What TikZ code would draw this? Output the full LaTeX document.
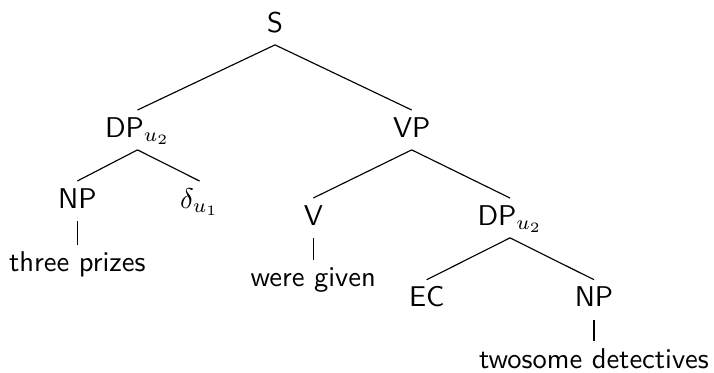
\documentclass[tikz,border=0pt]{standalone}
\begin{document}
\begin{tikzpicture}[x=0.35pt,y=-0.35pt,
  lbl/.style={anchor=base,inner sep=0pt,text height=9.25pt,text depth=4.3pt,font=\sffamily},
  branch/.style={draw=black,line width=0.4pt}]
\useasboundingbox (0,0) rectangle (714,372);
% labels of the tree
\node[lbl] (S)   at (275,32)    {S};
\node[lbl] (DPa) at (137.5,137) {DP$_{u_2}$};
\node[lbl] (VP)  at (411.7,137) {VP};
\node[lbl] (NPa) at (77.3,208)  {NP};
\node[lbl] (dl)  at (199.5,208) {$\delta_{u_1}$};
\node[lbl] (V)   at (313.3,225) {V};
\node[lbl] (DPb) at (510,225)   {DP$_{u_2}$};
\node[lbl] (tp)  at (77.3,271.5) {three prizes};
\node[lbl] (wg)  at (313.3,286.7) {were given};
\node[lbl] (EC)  at (426.7,306.7) {EC};
\node[lbl] (NPb) at (594,306.7) {NP};
\node[lbl] (td)  at (594,368.3) {twosome detectives};
% branches
\draw[branch] (S.south) -- (DPa.north);
\draw[branch] (S.south) -- (VP.north);
\draw[branch] (DPa.south) -- (NPa.north);
\draw[branch] (DPa.south) -- (dl.north);
\draw[branch] (NPa.south) -- (tp.north);
\draw[branch] (VP.south) -- (V.north);
\draw[branch] (VP.south) -- (DPb.north);
\draw[branch] (V.south) -- (wg.north);
\draw[branch] (DPb.south) -- (EC.north);
\draw[branch] (DPb.south) -- (NPb.north);
\draw[branch] (NPb.south) -- (td.north);
\end{tikzpicture}
\end{document}
